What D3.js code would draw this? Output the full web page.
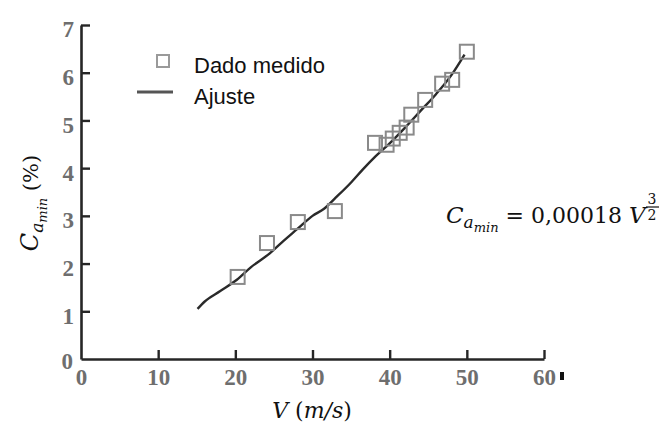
<!DOCTYPE html>
<html>
<head>
<meta charset="utf-8">
<script src="https://cdn.jsdelivr.net/npm/d3@7/dist/d3.min.js"></script>
<style>
  html, body { margin: 0; padding: 0; background: #fff; }
  svg { display: block; }
</style>
</head>
<body>
<svg id="chart" width="661" height="423"></svg>
<script>
// Measured data (V in m/s, Ca_min in %)
const measuredV = [20.3, 24.1, 28.1, 32.9, 38.1, 39.6, 40.4, 41.3, 42.2, 42.8, 44.6, 46.8, 48.1, 50.0];
const measuredC = [1.72, 2.43, 2.87, 3.10, 4.53, 4.49, 4.62, 4.74, 4.85, 5.12, 5.43, 5.77, 5.85, 6.44];
// Fitted curve
const fitV = [15.1, 16, 18, 20.2, 22, 24.5, 26, 28, 30, 31.5, 33, 35, 36.5, 38, 40, 42, 44, 46, 48, 49.7];
const fitC = [1.05, 1.2, 1.42, 1.66, 1.92, 2.22, 2.44, 2.72, 3.0, 3.15, 3.38, 3.7, 3.97, 4.22, 4.52, 4.85, 5.2, 5.55, 5.95, 6.38];
const xTicks = [0, 10, 20, 30, 40, 50, 60];
const yTicks = [0, 1, 2, 3, 4, 5, 6, 7];
const legendLabels = ["Dado medido", "Ajuste"];

const svg = d3.select("#chart");
const x = d3.scaleLinear().domain([0, 60]).range([81, 544]);
const y = d3.scaleLinear().domain([0, 7]).range([359, 25]);

const tickFont = "'Liberation Serif', 'Times New Roman', serif";
const tickColor = "#6e6e6e";
const axisColor = "#262626";

// X axis
const gx = svg.append("g").attr("transform", `translate(0,${y(0)})`)
  .call(d3.axisBottom(x).tickValues(xTicks).tickSizeInner(-9).tickSizeOuter(0).tickFormat(d3.format("d")));
gx.select(".domain").attr("stroke", axisColor).attr("stroke-width", 2.6);
gx.selectAll(".tick line").attr("stroke", axisColor).attr("stroke-width", 2.4);
gx.selectAll(".tick text").attr("fill", tickColor).attr("font-family", tickFont)
  .attr("font-size", 23).attr("font-weight", "bold").attr("dy", null).attr("y", 26);

// Y axis
const gy = svg.append("g").attr("transform", `translate(${x(0)},0)`)
  .call(d3.axisLeft(y).tickValues(yTicks).tickSizeInner(-9).tickSizeOuter(0).tickFormat(d3.format("d")));
gy.select(".domain").attr("stroke", axisColor).attr("stroke-width", 2.6);
gy.selectAll(".tick line").attr("stroke", axisColor).attr("stroke-width", 2.4);
gy.selectAll(".tick text").attr("fill", tickColor).attr("font-family", tickFont)
  .attr("font-size", 23).attr("font-weight", "bold").attr("x", -7).attr("dy", "0.52em");
gy.selectAll(".tick").filter(d => d === 0).select("line").remove();
gx.selectAll(".tick").filter(d => d === 0).select("line").remove();
gy.selectAll(".tick").filter(d => d === 0).select("text").attr("dy", "0.4em").attr("x", -8);

// small mark after 60
svg.append("rect").attr("x", x(60) + 16).attr("y", y(0) + 13).attr("width", 4).attr("height", 8).attr("fill", "#111");

// Fit line
const line = d3.line().x((d, i) => x(fitV[i])).y((d, i) => y(fitC[i])).curve(d3.curveMonotoneX);
svg.append("path").datum(fitV).attr("d", line)
  .attr("fill", "none").attr("stroke", "#2a2a2a").attr("stroke-width", 2.4);

// Measured squares
const s = 14;
svg.append("g").selectAll("rect").data(measuredV).join("rect")
  .attr("x", (d, i) => x(d) - s / 2).attr("y", (d, i) => y(measuredC[i]) - s / 2)
  .attr("width", s).attr("height", s)
  .attr("fill", "none").attr("stroke", "#8a8a8a").attr("stroke-width", 2);

// Legend
const lg = svg.append("g");
lg.append("rect").attr("x", 157).attr("y", 55).attr("width", 12).attr("height", 12)
  .attr("fill", "none").attr("stroke", "#9a9a9a").attr("stroke-width", 2);
lg.append("line").attr("x1", 137).attr("x2", 173).attr("y1", 92).attr("y2", 92)
  .attr("stroke", "#555").attr("stroke-width", 3);
lg.selectAll("text").data(legendLabels).join("text")
  .attr("x", 194).attr("y", (d, i) => 73 + i * 31)
  .attr("font-family", "'Liberation Sans', Arial, sans-serif").attr("font-size", 22)
  .attr("fill", "#111").text(d => d);

const mathFont = "'DejaVu Serif', 'Liberation Serif', serif";

// Y axis label
const yl = svg.append("text")
  .attr("transform", "translate(38,203) rotate(-90)")
  .attr("text-anchor", "middle").attr("font-family", mathFont).attr("fill", "#111");
yl.append("tspan").attr("font-size", 24).attr("font-style", "italic").text("C");
yl.append("tspan").attr("font-size", 17).attr("font-style", "italic").attr("dy", 5).text("a");
yl.append("tspan").attr("font-size", 13).attr("font-style", "italic").attr("dy", 4).text("min");
yl.append("tspan").attr("font-size", 21).attr("dy", -9).text("  (%)");

// X axis label
const xl = svg.append("text").attr("x", 312).attr("y", 418).attr("text-anchor", "middle")
  .attr("font-family", mathFont).attr("font-size", 22).attr("fill", "#111");
xl.append("tspan").attr("font-style", "italic").text("V");
xl.append("tspan").text(" (");
xl.append("tspan").attr("font-style", "italic").text("m/s");
xl.append("tspan").text(")");

// Formula
const f = svg.append("text").attr("x", 446).attr("y", 223)
  .attr("font-family", mathFont).attr("fill", "#111");
f.append("tspan").attr("font-size", 23).attr("font-style", "italic").text("C");
f.append("tspan").attr("font-size", 17).attr("font-style", "italic").attr("dy", 5).text("a");
f.append("tspan").attr("font-size", 13).attr("font-style", "italic").attr("dy", 4).text("min");
f.append("tspan").attr("font-size", 22).attr("dy", -9).text(" = 0,00018 ");
f.append("tspan").attr("font-size", 23).attr("font-style", "italic").text("V");
svg.append("text").attr("x", 652).attr("y", 204).attr("text-anchor", "middle")
  .attr("font-family", mathFont).attr("font-size", 14).attr("fill", "#111").text("3");
svg.append("line").attr("x1", 646).attr("x2", 659).attr("y1", 207).attr("y2", 207)
  .attr("stroke", "#111").attr("stroke-width", 1.2);
svg.append("text").attr("x", 652).attr("y", 220).attr("text-anchor", "middle")
  .attr("font-family", mathFont).attr("font-size", 14).attr("fill", "#111").text("2");
</script>
</body>
</html>
